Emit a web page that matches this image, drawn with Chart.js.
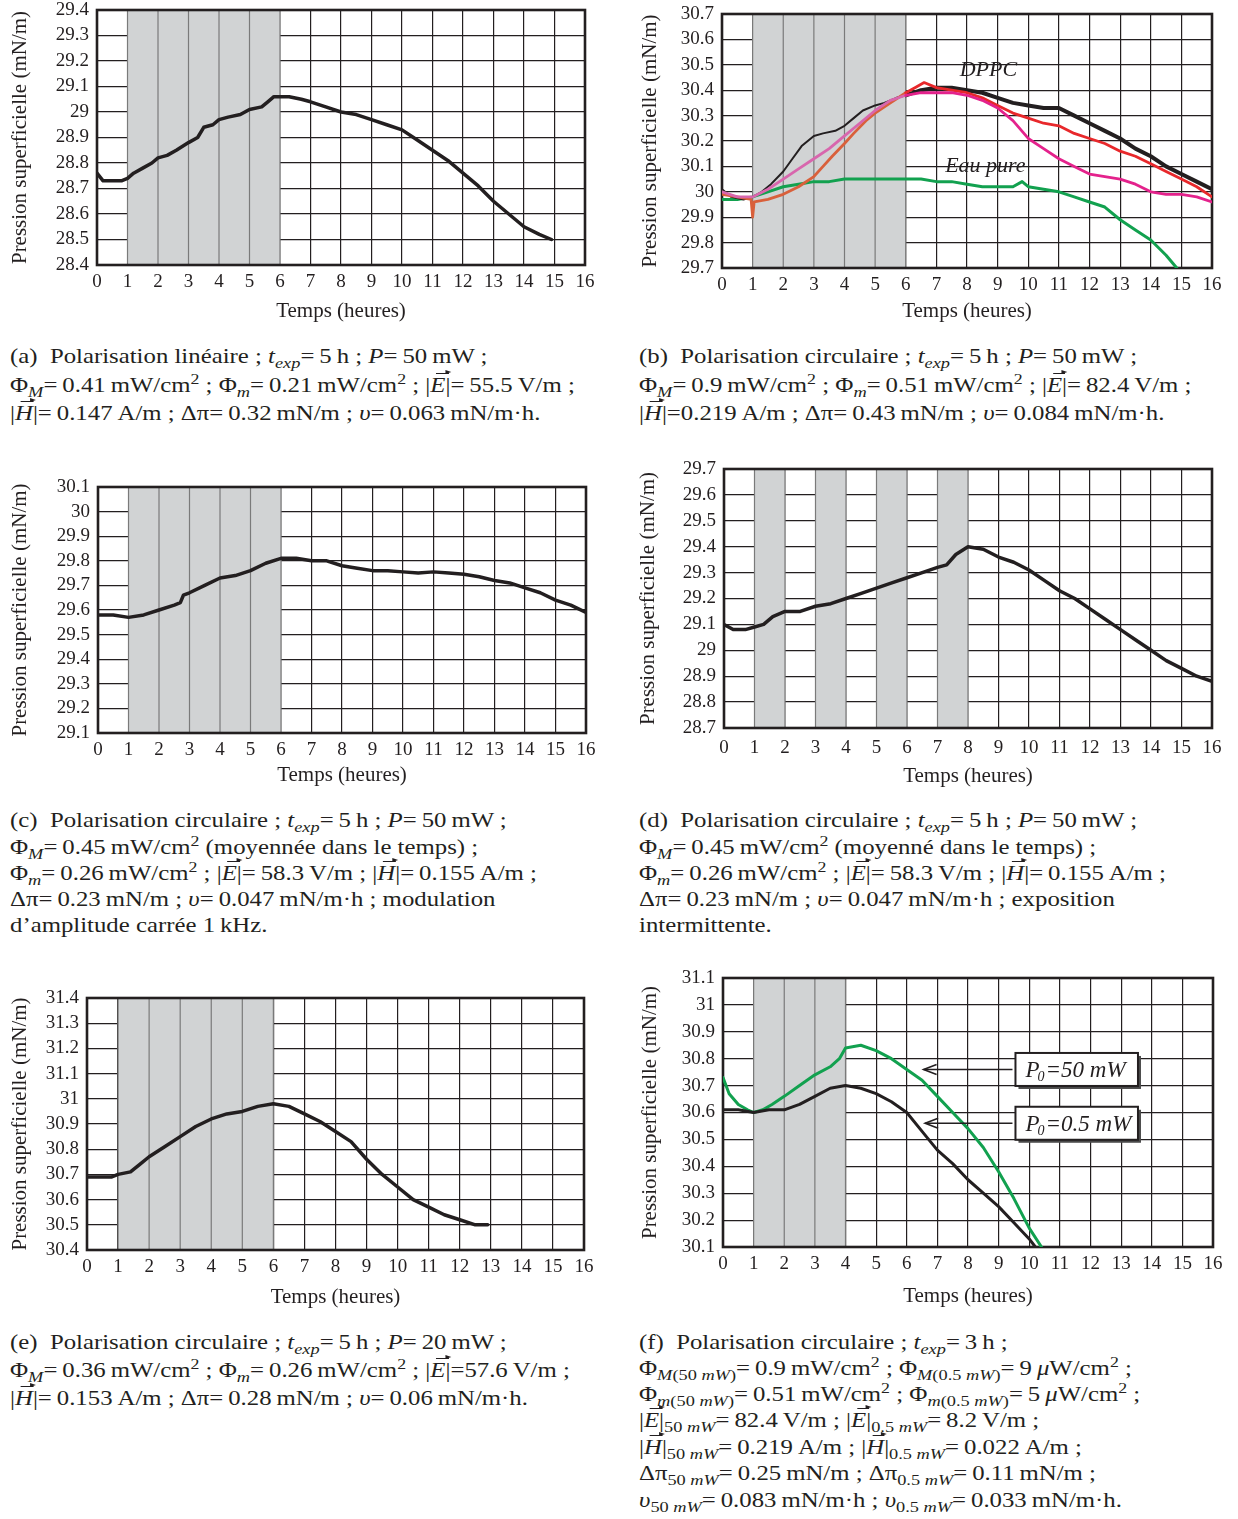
<!DOCTYPE html>
<html><head><meta charset="utf-8">
<script src="https://cdn.jsdelivr.net/npm/chart.js@4/dist/chart.umd.min.js"></script>
<style>
body{margin:0;background:#fff;width:1238px;height:1519px;position:relative;overflow:hidden}
canvas{position:absolute}
.cap{position:absolute;font-family:'Liberation Serif',serif;font-size:21px;color:#231f20;white-space:nowrap;line-height:26px;height:26px;transform:scaleX(1.18);transform-origin:0 50%}
.cap sub{font-size:0.74em;vertical-align:-0.32em;line-height:0}
.cap sup{font-size:0.72em;vertical-align:0.55em;line-height:0}
.vec{position:relative;display:inline-block;font-style:italic;line-height:1}
.vec .arr{position:absolute;left:0.24em;top:-0.1em;width:0.5em;height:0;border-top:1.2px solid #231f20}
.vec .arr::after{content:'';position:absolute;right:-2px;top:-3.6px;border-left:5px solid #231f20;border-top:2.4px solid transparent;border-bottom:2.4px solid transparent}
</style></head><body>
<canvas id="ca"></canvas><canvas id="cb"></canvas><canvas id="cc"></canvas>
<canvas id="cd"></canvas><canvas id="ce"></canvas><canvas id="cf"></canvas>
<div id="caps"></div>
<script>
// ---------- DATA ----------
const xTicks = [0, 16, 1];            // min, max, step (Temps, heures)
// (a)
const yRangeA = [28.4, 29.4];
const shadeA = [[1, 6]];
const tA = [0,0.2,0.5,0.8,1.0,1.2,1.5,1.8,2.0,2.3,2.6,3.0,3.3,3.5,3.8,4.0,4.3,4.7,5.0,5.4,5.6,5.8,6.0,6.3,6.7,7.0,7.5,8.0,8.5,9.0,9.5,10.0,10.5,11.0,11.5,12.0,12.5,13.0,13.5,14.0,14.5,14.9];
const pA = [28.76,28.73,28.73,28.73,28.74,28.76,28.78,28.80,28.82,28.83,28.85,28.88,28.90,28.94,28.95,28.97,28.98,28.99,29.01,29.02,29.04,29.06,29.06,29.06,29.05,29.04,29.02,29.00,28.99,28.97,28.95,28.93,28.89,28.85,28.81,28.76,28.71,28.65,28.60,28.55,28.52,28.50];
// (b)
const yRangeB = [29.7, 30.7];
const shadeB = [[1, 6]];
const tBblack = [0,0.3,0.7,1.0,1.3,1.6,2.0,2.3,2.6,3.0,3.3,3.7,4.0,4.3,4.6,5.0,5.3,5.7,6.0,6.5,7.0,7.5,8.0,8.5,9.0,9.5,10.0,10.5,11.0,11.5,12.0,12.5,13.0,13.5,14.0,14.5,15.0,15.5,16.0];
const pBblack = [30.01,29.98,29.97,29.98,30.00,30.03,30.08,30.13,30.18,30.22,30.23,30.24,30.26,30.29,30.32,30.34,30.35,30.37,30.38,30.40,30.41,30.41,30.40,30.39,30.37,30.35,30.34,30.33,30.33,30.30,30.27,30.24,30.21,30.17,30.14,30.10,30.07,30.04,30.01];
const tBred = [0,0.5,0.95,1.0,1.05,1.5,2.0,2.5,3.0,3.3,3.6,4.0,4.3,4.7,5.0,5.5,6.0,6.3,6.6,7.0,7.5,8.0,8.5,9.0,9.5,10.0,10.5,11.0,11.5,12.0,12.5,13.0,13.5,14.0,14.5,15.0,15.5,16.0];
const pBred = [29.99,29.98,29.97,29.90,29.96,29.97,29.99,30.02,30.06,30.10,30.14,30.19,30.23,30.28,30.31,30.35,30.39,30.41,30.43,30.41,30.40,30.39,30.37,30.34,30.31,30.29,30.27,30.26,30.23,30.21,30.19,30.16,30.14,30.11,30.08,30.05,30.02,29.98];
const tBmag = [0,0.5,1.0,1.5,2.0,2.5,3.0,3.5,4.0,4.5,5.0,5.5,6.0,6.5,7.0,7.5,8.0,8.5,9.0,9.5,10.0,10.5,11.0,11.5,12.0,12.5,13.0,13.5,14.0,14.5,15.0,15.5,16.0];
const pBmag = [30.00,29.98,29.98,30.01,30.05,30.09,30.13,30.17,30.22,30.27,30.32,30.36,30.38,30.39,30.39,30.39,30.38,30.36,30.33,30.28,30.21,30.17,30.13,30.10,30.07,30.06,30.05,30.03,30.00,29.99,29.99,29.98,29.96];
const tBeau = [0,0.5,1.0,1.5,2.0,2.5,3.0,3.5,4.0,4.5,5.0,5.5,6.0,6.5,7.0,7.5,8.0,8.5,9.0,9.5,9.8,10.0,10.5,11.0,11.5,12.0,12.5,13.0,13.5,14.0,14.5,14.85];
const pBeau = [29.97,29.97,29.98,30.00,30.02,30.03,30.04,30.04,30.05,30.05,30.05,30.05,30.05,30.05,30.04,30.04,30.03,30.02,30.02,30.02,30.04,30.02,30.01,30.00,29.98,29.96,29.94,29.89,29.85,29.81,29.75,29.70];
// (c)
const yRangeC = [29.1, 30.1];
const shadeC = [[1, 6]];
const tC = [0,0.5,1.0,1.5,2.0,2.5,2.7,2.8,3.0,3.5,4.0,4.5,5.0,5.5,6.0,6.5,7.0,7.5,8.0,8.5,9.0,9.5,10.0,10.5,11.0,11.5,12.0,12.5,13.0,13.5,14.0,14.5,15.0,15.5,16.0];
const pC = [29.58,29.58,29.57,29.58,29.60,29.62,29.63,29.66,29.67,29.70,29.73,29.74,29.76,29.79,29.81,29.81,29.80,29.80,29.78,29.77,29.76,29.76,29.755,29.75,29.755,29.75,29.745,29.735,29.72,29.71,29.69,29.67,29.64,29.62,29.59];
// (d)
const yRangeD = [28.7, 29.7];
const shadeD = [[1, 2], [3, 4], [5, 6], [7, 8]];
const tD = [0,0.3,0.7,1.0,1.3,1.6,2.0,2.5,3.0,3.5,4.0,4.5,5.0,5.5,6.0,6.5,7.0,7.3,7.6,8.0,8.5,9.0,9.5,10.0,10.5,11.0,11.5,12.0,12.5,13.0,13.5,14.0,14.5,15.0,15.5,16.0];
const pD = [29.10,29.08,29.08,29.09,29.10,29.13,29.15,29.15,29.17,29.18,29.20,29.22,29.24,29.26,29.28,29.30,29.32,29.33,29.37,29.40,29.39,29.36,29.34,29.31,29.27,29.23,29.20,29.16,29.12,29.08,29.04,29.00,28.96,28.93,28.90,28.88];
// (e)
const yRangeE = [30.4, 31.4];
const shadeE = [[1, 6]];
const tE = [0,0.5,0.8,1.0,1.4,1.7,2.0,2.5,3.0,3.5,4.0,4.5,5.0,5.5,6.0,6.5,7.0,7.5,8.0,8.5,9.0,9.5,10.0,10.5,11.0,11.5,12.0,12.5,12.9];
const pE = [30.69,30.69,30.69,30.70,30.71,30.74,30.77,30.81,30.85,30.89,30.92,30.94,30.95,30.97,30.98,30.97,30.94,30.91,30.87,30.83,30.76,30.70,30.65,30.60,30.57,30.54,30.52,30.50,30.50];
// (f)
const yRangeF = [30.1, 31.1];
const shadeF = [[1, 4]];
const tF05 = [0,0.5,1.0,1.5,2.0,2.5,3.0,3.5,4.0,4.5,5.0,5.5,6.0,6.5,7.0,7.5,8.0,8.5,9.0,9.5,10.0,10.2];
const pF05 = [30.61,30.61,30.60,30.61,30.61,30.63,30.66,30.69,30.70,30.69,30.67,30.64,30.60,30.53,30.46,30.41,30.35,30.30,30.25,30.19,30.13,30.10];
const tF50 = [0,0.2,0.5,0.8,1.0,1.3,1.6,2.0,2.5,3.0,3.5,3.8,4.0,4.5,5.0,5.5,6.0,6.5,7.0,7.5,8.0,8.5,9.0,9.5,10.0,10.4];
const pF50 = [30.73,30.67,30.63,30.61,30.60,30.61,30.63,30.66,30.70,30.74,30.77,30.80,30.84,30.85,30.83,30.80,30.76,30.72,30.66,30.60,30.54,30.47,30.38,30.28,30.17,30.10];

// ---------- STYLE / HELPERS ----------
const INK = '#231f20';
const FONT = 'Liberation Serif';
const pts = (t, p) => t.map((v, i) => ({x: v, y: p[i]}));

const shadePlugin = {
  id: 'shade',
  beforeDatasetsDraw(chart, args, opts) {
    const {ctx, chartArea: a, scales: {x}} = chart;
    ctx.save();
    (opts.intervals || []).forEach(([s, e]) => {
      const x0 = x.getPixelForValue(s), x1 = x.getPixelForValue(e);
      ctx.fillStyle = '#d1d3d4';
      ctx.fillRect(x0, a.top, x1 - x0, a.bottom - a.top);
      ctx.strokeStyle = '#7a7a7a'; ctx.lineWidth = 1.2;
      for (let k = Math.ceil(s); k <= e; k++) {
        const px = x.getPixelForValue(k);
        ctx.beginPath(); ctx.moveTo(px, a.top); ctx.lineTo(px, a.bottom); ctx.stroke();
      }
    });
    ctx.strokeStyle = INK; ctx.lineWidth = 2.6;
    ctx.strokeRect(a.left, a.top, a.right - a.left, a.bottom - a.top);
    ctx.restore();
  }
};

const notePlugin = {
  id: 'notes',
  afterDatasetsDraw(chart, args, opts) {
    const {ctx, scales: {x, y}} = chart;
    ctx.save();
    ctx.fillStyle = INK;
    (opts.texts || []).forEach(t => {
      ctx.font = 'italic 22px ' + FONT;
      ctx.textAlign = 'center'; ctx.textBaseline = 'middle';
      ctx.fillText(t.text, x.getPixelForValue(t.x), y.getPixelForValue(t.y));
    });
    (opts.boxes || []).forEach(b => {
      const x0 = x.getPixelForValue(b.x0), x1 = x.getPixelForValue(b.x1);
      const yc = y.getPixelForValue(b.y), h = 33, w = x1 - x0;
      ctx.fillStyle = '#4a4a4a';
      ctx.fillRect(x0 + 3, yc - h / 2 + 3, w, h);
      ctx.fillStyle = '#fff';
      ctx.fillRect(x0, yc - h / 2, w, h);
      ctx.strokeStyle = INK; ctx.lineWidth = 2;
      ctx.strokeRect(x0, yc - h / 2, w, h);
      ctx.fillStyle = INK;
      ctx.textAlign = 'left'; ctx.textBaseline = 'alphabetic';
      ctx.font = 'italic 23px ' + FONT;
      let px = x0 + 10;
      ctx.fillText('P', px, yc + 8); px += ctx.measureText('P').width;
      ctx.font = 'italic 14px ' + FONT;
      ctx.fillText('0', px - 2, yc + 12); px += ctx.measureText('0').width - 1;
      ctx.font = 'italic 23px ' + FONT;
      ctx.fillText('=' + b.text, px, yc + 8);
      const tip = x.getPixelForValue(b.tip);
      ctx.lineWidth = 1.6;
      ctx.beginPath(); ctx.moveTo(x0 - 3, yc); ctx.lineTo(tip, yc); ctx.stroke();
      ctx.beginPath(); ctx.moveTo(tip + 13, yc - 5); ctx.lineTo(tip, yc); ctx.lineTo(tip + 13, yc + 5); ctx.stroke();
    });
    ctx.restore();
  }
};

function makeChart(id, P, datasets, pluginOpts) {
  const cv = document.getElementById(id);
  const LH = 21 * 1.2;
  const h = Math.round(P.xTit + LH / 2 + 2 - P.cy);
  cv.width = P.w; cv.height = h;
  cv.style.left = P.cx + 'px'; cv.style.top = P.cy + 'px';
  const yAxisW = P.l - P.cx;
  const xAxisH = P.cy + h - P.b;
  new Chart(cv, {
    type: 'line',
    data: {datasets},
    plugins: [shadePlugin, notePlugin],
    options: {
      responsive: false, animation: false, events: [],
      layout: {padding: {left: 0, top: P.t - P.cy, right: P.cx + P.w - P.r, bottom: 0}},
      elements: {point: {radius: 0}, line: {tension: 0, borderJoinStyle: 'round', borderCapStyle: 'round'}},
      plugins: Object.assign({legend: {display: false}, tooltip: {enabled: false}}, pluginOpts),
      scales: {
        x: {
          type: 'linear', min: xTicks[0], max: xTicks[1],
          ticks: {stepSize: xTicks[2], padding: P.xLab - P.b - 11.4, color: INK, font: {family: FONT, size: 19}, maxRotation: 0, autoSkip: false},
          grid: {color: INK, lineWidth: 1.2, drawTicks: false},
          border: {display: false},
          title: {display: true, text: 'Temps (heures)', color: INK, font: {family: FONT, size: 21}, padding: {top: 0, bottom: 2}},
          afterFit(s) { s.height = xAxisH; s.paddingLeft = 0; s.paddingRight = 0; }
        },
        y: {
          type: 'linear', min: P.yr[0], max: P.yr[1],
          ticks: {stepSize: 0.1, padding: 8, color: INK, font: {family: FONT, size: 19}, autoSkip: false,
                  callback: v => String(Number(v.toFixed(1)))},
          grid: {color: INK, lineWidth: 1.2, drawTicks: false},
          border: {display: false},
          title: {display: true, text: 'Pression superficielle (mN/m)', color: INK, font: {family: FONT, size: 21}, padding: {top: P.yTit - P.cx - LH / 2, bottom: 0}},
          afterFit(s) { s.width = yAxisW; s.paddingTop = 0; s.paddingBottom = 0; }
        }
      }
    }
  });
}

const line = (t, p, color, width, extra) => Object.assign({data: pts(t, p), borderColor: color, borderWidth: width, pointRadius: 0, fill: false}, extra || {});

makeChart('ca', {cx: 0, cy: 0, w: 610, l: 97, t: 10, r: 585, b: 265, yTit: 20, xLab: 282, xTit: 311, yr: yRangeA},
  [line(tA, pA, INK, 3.5)], {shade: {intervals: shadeA}});

makeChart('cb', {cx: 630, cy: 0, w: 608, l: 722, t: 14, r: 1212, b: 268, yTit: 650, xLab: 285, xTit: 311, yr: yRangeB},
  [
    line(tBmag, pBmag, '#e4228c', 2.8, {segment: {borderColor: c => c.p0.parsed.x < 6 ? '#d866ad' : '#e4228c'}}),
    line(tBred, pBred, '#e8282b', 2.8, {segment: {borderColor: c => c.p0.parsed.x < 6 ? '#d9603b' : '#e8282b'}}),
    line(tBblack, pBblack, INK, 3.5, {segment: {borderWidth: c => c.p0.parsed.x < 6 ? 2 : 4}}),
    line(tBeau, pBeau, '#12a14f', 3)
  ],
  {shade: {intervals: shadeB}, notes: {texts: [{text: 'DPPC', x: 8.7, y: 30.48}, {text: 'Eau pure', x: 8.6, y: 30.10}]}});

makeChart('cc', {cx: 0, cy: 470, w: 610, l: 98, t: 487, r: 586, b: 733, yTit: 20, xLab: 750, xTit: 775, yr: yRangeC},
  [line(tC, pC, INK, 3.5)], {shade: {intervals: shadeC}});

makeChart('cd', {cx: 630, cy: 455, w: 608, l: 724, t: 469, r: 1212, b: 728, yTit: 648, xLab: 748, xTit: 776, yr: yRangeD},
  [line(tD, pD, INK, 3.5)], {shade: {intervals: shadeD}});

makeChart('ce', {cx: 0, cy: 985, w: 610, l: 87, t: 998, r: 584, b: 1250, yTit: 20, xLab: 1267, xTit: 1297, yr: yRangeE},
  [line(tE, pE, INK, 3.5)], {shade: {intervals: shadeE}});

makeChart('cf', {cx: 630, cy: 965, w: 608, l: 723, t: 978, r: 1213, b: 1247, yTit: 650, xLab: 1264, xTit: 1296, yr: yRangeF},
  [line(tF05, pF05, INK, 3), line(tF50, pF50, '#12a14f', 3)],
  {shade: {intervals: shadeF}, notes: {boxes: [
    {text: '50 mW', x0: 9.55, x1: 13.55, y: 30.76, tip: 6.55},
    {text: '0.5 mW', x0: 9.55, x1: 13.55, y: 30.56, tip: 6.6}
  ]}});

// ---------- CAPTIONS ----------
const E = '|<span class="vec">E<span class="arr"></span></span>|', H = '|<span class="vec">H<span class="arr"></span></span>|';
const sm = '&thinsp;';
const texp = '<i>t</i><sub><i>exp</i></sub>';
const captions = [
  {x: 10, lines: [
    [356, '(a)&nbsp; Polarisation linéaire ; ' + texp + '=' + sm + '5' + sm + 'h ; <i>P</i>=' + sm + '50' + sm + 'mW ;'],
    [385, 'Φ<sub><i>M</i></sub>=' + sm + '0.41' + sm + 'mW/cm<sup>2</sup> ; Φ<sub><i>m</i></sub>=' + sm + '0.21' + sm + 'mW/cm<sup>2</sup> ; ' + E + '=' + sm + '55.5' + sm + 'V/m ;'],
    [413, H + '=' + sm + '0.147' + sm + 'A/m ; Δπ=' + sm + '0.32' + sm + 'mN/m ; <i>υ</i>=' + sm + '0.063' + sm + 'mN/m·h.']
  ]},
  {x: 639, lines: [
    [356, '(b)&nbsp; Polarisation circulaire ; ' + texp + '=' + sm + '5' + sm + 'h ; <i>P</i>=' + sm + '50' + sm + 'mW ;'],
    [385, 'Φ<sub><i>M</i></sub>=' + sm + '0.9' + sm + 'mW/cm<sup>2</sup> ; Φ<sub><i>m</i></sub>=' + sm + '0.51' + sm + 'mW/cm<sup>2</sup> ; ' + E + '=' + sm + '82.4' + sm + 'V/m ;'],
    [413, H + '=0.219' + sm + 'A/m ; Δπ=' + sm + '0.43' + sm + 'mN/m ; <i>υ</i>=' + sm + '0.084' + sm + 'mN/m·h.']
  ]},
  {x: 10, lines: [
    [820, '(c)&nbsp; Polarisation circulaire ; ' + texp + '=' + sm + '5' + sm + 'h ; <i>P</i>=' + sm + '50' + sm + 'mW ;'],
    [847, 'Φ<sub><i>M</i></sub>=' + sm + '0.45' + sm + 'mW/cm<sup>2</sup> (moyennée dans le temps) ;'],
    [873, 'Φ<sub><i>m</i></sub>=' + sm + '0.26' + sm + 'mW/cm<sup>2</sup> ; ' + E + '=' + sm + '58.3' + sm + 'V/m ; ' + H + '=' + sm + '0.155' + sm + 'A/m ;'],
    [899, 'Δπ=' + sm + '0.23' + sm + 'mN/m ; <i>υ</i>=' + sm + '0.047' + sm + 'mN/m·h ; modulation'],
    [925, 'd’amplitude carrée 1' + sm + 'kHz.']
  ]},
  {x: 639, lines: [
    [820, '(d)&nbsp; Polarisation circulaire ; ' + texp + '=' + sm + '5' + sm + 'h ; <i>P</i>=' + sm + '50' + sm + 'mW ;'],
    [847, 'Φ<sub><i>M</i></sub>=' + sm + '0.45' + sm + 'mW/cm<sup>2</sup> (moyenné dans le temps) ;'],
    [873, 'Φ<sub><i>m</i></sub>=' + sm + '0.26' + sm + 'mW/cm<sup>2</sup> ; ' + E + '=' + sm + '58.3' + sm + 'V/m ; ' + H + '=' + sm + '0.155' + sm + 'A/m ;'],
    [899, 'Δπ=' + sm + '0.23' + sm + 'mN/m ; <i>υ</i>=' + sm + '0.047' + sm + 'mN/m·h ; exposition'],
    [925, 'intermittente.']
  ]},
  {x: 10, lines: [
    [1342, '(e)&nbsp; Polarisation circulaire ; ' + texp + '=' + sm + '5' + sm + 'h ; <i>P</i>=' + sm + '20' + sm + 'mW ;'],
    [1370, 'Φ<sub><i>M</i></sub>=' + sm + '0.36' + sm + 'mW/cm<sup>2</sup> ; Φ<sub><i>m</i></sub>=' + sm + '0.26' + sm + 'mW/cm<sup>2</sup> ; ' + E + '=57.6' + sm + 'V/m ;'],
    [1398, H + '=' + sm + '0.153' + sm + 'A/m ; Δπ=' + sm + '0.28' + sm + 'mN/m ; <i>υ</i>=' + sm + '0.06' + sm + 'mN/m·h.']
  ]},
  {x: 639, lines: [
    [1342, '(f)&nbsp; Polarisation circulaire ; ' + texp + '=' + sm + '3' + sm + 'h ;'],
    [1368, 'Φ<sub><i>M</i>(50 <i>mW</i>)</sub>=' + sm + '0.9' + sm + 'mW/cm<sup>2</sup> ; Φ<sub><i>M</i>(0.5 <i>mW</i>)</sub>=' + sm + '9' + sm + '<i>μ</i>W/cm<sup>2</sup> ;'],
    [1394, 'Φ<sub><i>m</i>(50 <i>mW</i>)</sub>=' + sm + '0.51' + sm + 'mW/cm<sup>2</sup> ; Φ<sub><i>m</i>(0.5 <i>mW</i>)</sub>=' + sm + '5' + sm + '<i>μ</i>W/cm<sup>2</sup> ;'],
    [1420, E + '<sub>50 <i>mW</i></sub>=' + sm + '82.4' + sm + 'V/m ; ' + E + '<sub>0.5 <i>mW</i></sub>=' + sm + '8.2' + sm + 'V/m ;'],
    [1447, H + '<sub>50 <i>mW</i></sub>=' + sm + '0.219' + sm + 'A/m ; ' + H + '<sub>0.5 <i>mW</i></sub>=' + sm + '0.022' + sm + 'A/m ;'],
    [1473, 'Δπ<sub>50 <i>mW</i></sub>=' + sm + '0.25' + sm + 'mN/m ; Δπ<sub>0.5 <i>mW</i></sub>=' + sm + '0.11' + sm + 'mN/m ;'],
    [1500, '<i>υ</i><sub>50 <i>mW</i></sub>=' + sm + '0.083' + sm + 'mN/m·h ; <i>υ</i><sub>0.5 <i>mW</i></sub>=' + sm + '0.033' + sm + 'mN/m·h.']
  ]}
];
const capBox = document.getElementById('caps');
captions.forEach(c => c.lines.forEach(([yc, html]) => {
  const d = document.createElement('div');
  d.className = 'cap';
  d.style.left = c.x + 'px';
  d.style.top = (yc - 13) + 'px';
  d.innerHTML = html;
  capBox.appendChild(d);
}));
</script>
</body></html>
